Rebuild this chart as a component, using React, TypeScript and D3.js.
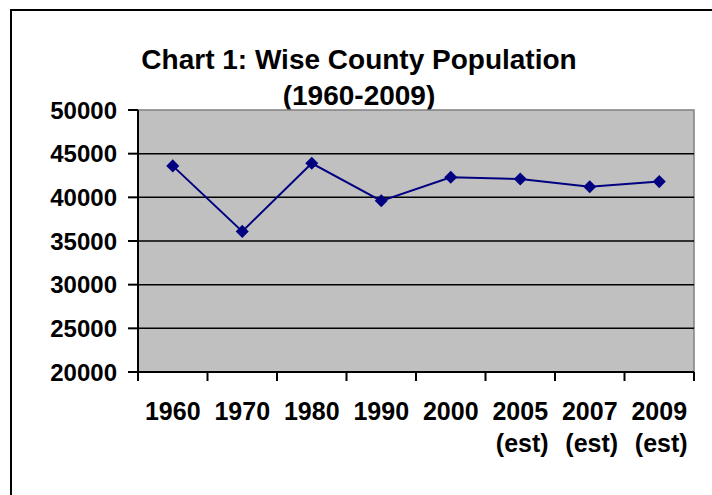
import * as d3 from 'd3';

const categories = ['1960', '1970', '1980', '1990', '2000', '2005', '2007', '2009'];
const subLabels = ['', '', '', '', '', '(est)', '(est)', '(est)'];
const population = [43600, 36100, 43900, 39600, 42300, 42100, 41200, 41800];
const yTicks = [20000, 25000, 30000, 35000, 40000, 45000, 50000];
const titleLines = ['Chart 1: Wise County Population', '(1960-2009)'];

const W = 712;
const H = 495;
const plot = { left: 138, right: 694, top: 110, bottom: 372 };
const font = '"Liberation Sans", Arial, sans-serif';

export default function App() {
  const x = d3.scaleBand<string>().domain(categories).range([plot.left, plot.right]);
  const y = d3.scaleLinear().domain([20000, 50000]).range([plot.bottom, plot.top]);

  const pts = categories.map((c, i) => ({ c, v: population[i] }));
  const line = d3.line<{ c: string; v: number }>()
    .x(d => (x(d.c) as number) + x.bandwidth() / 2)
    .y(d => y(d.v));
  const diamond = d3.symbol(d3.symbolSquare, 85)();

  // tick positions on the category axis sit on band edges
  const xEdges = categories.map(c => x(c) as number).concat([plot.right]);

  return (
    <svg width={W} height={H} style={{ position: 'absolute', left: 0, top: 0 }} fontFamily={font}>
      <rect x={0} y={0} width={W} height={H} fill="#fff" />
      {/* chart frame, runs off the picture to right and bottom */}
      <rect x={11} y={10} width={760} height={560} fill="none" stroke="#000" strokeWidth={2} />

      {/* title */}
      {titleLines.map((t, i) => (
        <text key={t} x={359} y={69 + i * 36} textAnchor="middle" fontSize={28} fontWeight="bold" fill="#000">
          {t}
        </text>
      ))}

      {/* plot area */}
      <rect x={plot.left} y={plot.top} width={plot.right - plot.left} height={plot.bottom - plot.top}
        fill="#c0c0c0" stroke="#808080" strokeWidth={1.5} />

      {yTicks.filter(t => t > 20000 && t < 50000).map(t => (
        <line key={t} x1={plot.left} x2={plot.right} y1={y(t)} y2={y(t)} stroke="#000" strokeWidth={1.5} />
      ))}

      {/* y axis */}
      <line x1={plot.left} x2={plot.left} y1={plot.top} y2={plot.bottom} stroke="#000" strokeWidth={2} />
      {yTicks.map(t => (
        <g key={t}>
          <line x1={plot.left - 10} x2={plot.left} y1={y(t)} y2={y(t)} stroke="#000" strokeWidth={2} />
          <text x={117} y={y(t)} dy="0.36em" textAnchor="end" fontSize={24} fontWeight="bold" fill="#000">
            {t}
          </text>
        </g>
      ))}

      {/* x axis */}
      <line x1={plot.left - 1} x2={plot.right} y1={plot.bottom} y2={plot.bottom} stroke="#000" strokeWidth={2} />
      {xEdges.map((e, i) => (
        <line key={i} x1={e} x2={e} y1={plot.bottom} y2={plot.bottom + 9} stroke="#000" strokeWidth={2} />
      ))}
      {categories.map((c, i) => {
        const cx = (x(c) as number) + x.bandwidth() / 2;
        return (
          <g key={c}>
            <text x={cx} y={420} textAnchor="middle" fontSize={25} fontWeight="bold" fill="#000">{c}</text>
            {subLabels[i] && (
              <text x={cx + 2} y={452} textAnchor="middle" fontSize={25} fontWeight="bold" fill="#000">
                {subLabels[i]}
              </text>
            )}
          </g>
        );
      })}

      {/* series */}
      <path d={line(pts) || ''} fill="none" stroke="#000080" strokeWidth={2} />
      {pts.map(p => (
        <path key={p.c} d={diamond || ''} fill="#000080"
          transform={`translate(${(x(p.c) as number) + x.bandwidth() / 2},${y(p.v)}) rotate(45)`} />
      ))}
    </svg>
  );
}
